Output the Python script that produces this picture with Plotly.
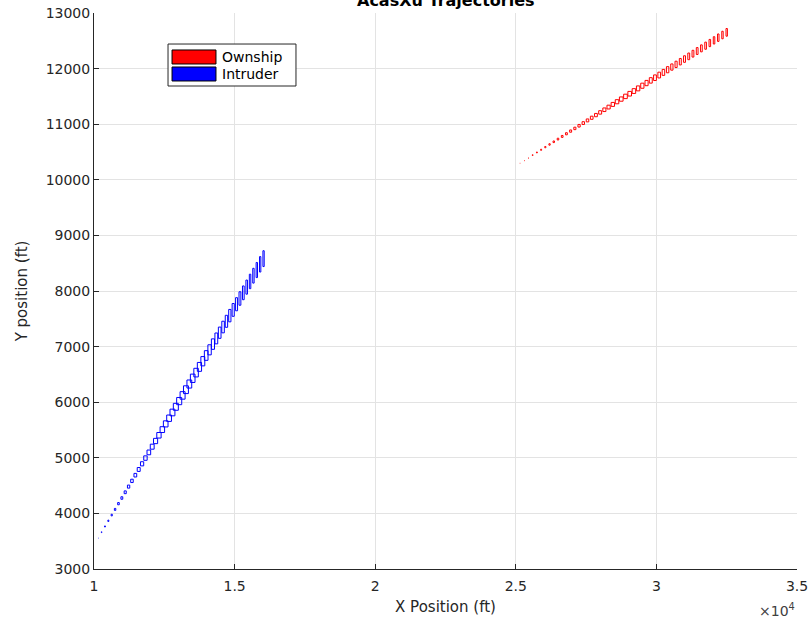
import plotly.graph_objects as go

# ---- data (ft) ----
own_x = [25150, 25300, 25450, 25600, 25750, 25900, 26050, 26200, 26350, 26500,
         26650, 26800, 26950, 27100, 27250, 27400, 27550, 27700, 27850, 28000,
         28150, 28300, 28450, 28600, 28750, 28900, 29050, 29200, 29350, 29500,
         29650, 29800, 29950, 30100, 30250, 30400, 30550, 30700, 30850, 31000,
         31150, 31300, 31450, 31600, 31750, 31900, 32050, 32200, 32350, 32500]
own_y = [10300, 10348, 10396, 10444, 10492, 10540, 10588, 10636, 10684, 10732,
         10780, 10828, 10876, 10924, 10972, 11020, 11068, 11116, 11164, 11212,
         11260, 11308, 11356, 11404, 11452, 11500, 11548, 11596, 11644, 11692,
         11740, 11788, 11836, 11884, 11932, 11980, 12028, 12076, 12124, 12172,
         12220, 12268, 12316, 12364, 12412, 12460, 12508, 12556, 12604, 12652]
own_w = [10, 15, 20, 25, 30, 35, 40, 45, 50, 55,
         60, 65, 70, 75, 80, 85, 90, 95, 100, 105,
         110, 115, 120, 125, 130, 130, 130, 125, 120, 115,
         110, 105, 100, 95, 90, 85, 80, 75, 70, 68,
         66, 64, 62, 60, 58, 56, 54, 52, 50, 50]
own_h = [5, 8, 11, 14, 17, 20, 23, 26, 29, 32,
         35, 38, 41, 44, 47, 50, 53, 56, 59, 62,
         65, 68, 71, 74, 77, 80, 83, 86, 89, 92,
         95, 98, 101, 104, 107, 110, 112, 114, 116, 118,
         120, 122, 124, 126, 128, 130, 132, 134, 136, 138]

int_x = [10150, 10270, 10390, 10510, 10630, 10750, 10870, 10990, 11110, 11230,
         11350, 11470, 11590, 11710, 11830, 11950, 12070, 12190, 12310, 12430,
         12550, 12670, 12790, 12910, 13030, 13150, 13270, 13390, 13510, 13630,
         13750, 13870, 13990, 14110, 14230, 14350, 14470, 14590, 14710, 14830,
         14950, 15070, 15190, 15310, 15430, 15550, 15670, 15790, 15910, 16030]
int_y = [3560, 3662, 3765, 3867, 3970, 4072, 4175, 4277, 4380, 4482,
         4585, 4687, 4790, 4892, 4995, 5097, 5200, 5302, 5405, 5507,
         5610, 5712, 5815, 5917, 6020, 6122, 6225, 6327, 6430, 6532,
         6635, 6737, 6840, 6942, 7045, 7147, 7250, 7352, 7455, 7557,
         7660, 7762, 7865, 7967, 8070, 8172, 8275, 8377, 8480, 8582]
int_w = [10, 18, 26, 34, 42, 50, 58, 66, 74, 82,
         90, 98, 106, 114, 122, 130, 138, 146, 154, 160,
         165, 170, 175, 178, 180, 178, 175, 170, 165, 160,
         150, 140, 130, 120, 110, 100, 95, 90, 85, 80,
         75, 70, 65, 60, 55, 52, 50, 48, 46, 45]
int_h = [10, 15, 20, 25, 30, 35, 40, 45, 50, 55,
         60, 65, 70, 75, 80, 85, 90, 95, 100, 105,
         110, 115, 120, 125, 130, 135, 140, 145, 150, 155,
         160, 167, 174, 181, 188, 195, 202, 209, 216, 223,
         230, 236, 242, 248, 254, 260, 266, 272, 278, 285]

x_ticks = [10000, 15000, 20000, 25000, 30000, 35000]
x_tick_text = ["1", "1.5", "2", "2.5", "3", "3.5"]
y_ticks = [3000, 4000, 5000, 6000, 7000, 8000, 9000, 10000, 11000, 12000, 13000]
y_tick_text = [str(v) for v in y_ticks]

legend_names = ["Ownship", "Intruder"]
legend_colors = ["#ff0000", "#0000ff"]


def boxes(cx, cy, w, h):
    xs, ys = [], []
    for x0, y0, ww, hh in zip(cx, cy, w, h):
        l, r, b, t = x0 - ww / 2, x0 + ww / 2, y0 - hh / 2, y0 + hh / 2
        xs += [l, r, r, l, l, None]
        ys += [b, b, t, t, b, None]
    return xs, ys


fig = go.Figure()
ox, oy = boxes(own_x, own_y, own_w, own_h)
ix, iy = boxes(int_x, int_y, int_w, int_h)
fig.add_trace(go.Scatter(x=ox, y=oy, mode="lines", line=dict(color="#ff0000", width=1),
                         showlegend=False, hoverinfo="skip", name="Ownship"))
fig.add_trace(go.Scatter(x=ix, y=iy, mode="lines", line=dict(color="#0000ff", width=1),
                         showlegend=False, hoverinfo="skip", name="Intruder"))

axis_font = dict(family="DejaVu Sans", size=14, color="#262626")
axis_common = dict(showgrid=True, gridcolor="#e3e3e3", gridwidth=1, zeroline=False,
                   showline=True, linecolor="#262626", linewidth=1, mirror=False,
                   ticks="inside", ticklen=5, tickcolor="#262626", automargin=False,
                   tickfont=axis_font)

fig.update_xaxes(range=[10000, 35000], tickvals=x_ticks, ticktext=x_tick_text,
                 ticklabelstandoff=4,
                 title=dict(text="X Position (ft)", font=dict(family="DejaVu Sans", size=15, color="#262626"),
                            standoff=8),
                 **axis_common)
fig.update_yaxes(range=[3000, 13000], tickvals=y_ticks, ticktext=y_tick_text,
                 title=dict(text="Y position (ft)", font=dict(family="DejaVu Sans", size=15, color="#262626"),
                            standoff=14),
                 **axis_common)

fig.add_annotation(x=0.972, y=-0.073, xref="paper", yref="paper", text="×10<sup>4</sup>",
                   showarrow=False, xanchor="center", yanchor="middle",
                   font=dict(family="DejaVu Sans", size=14, color="#404040"))

# title (partially above the page, as in the reference)
fig.add_annotation(x=0.5, y=1.0216, xref="paper", yref="paper", text="<b>AcasXu Trajectories</b>",
                   showarrow=False, xanchor="center", yanchor="middle",
                   font=dict(family="DejaVu Sans", size=16, color="#000000"))

# manual legend (box + filled patches + labels), in paper coordinates
fig.add_shape(type="rect", xref="paper", yref="paper", x0=0.1053, x1=0.2873, y0=0.8687, y1=0.9442,
              fillcolor="white", line=dict(color="#262626", width=1), layer="above")
patch_y = [(0.9083, 0.9335), (0.8777, 0.9029)]
for name, col, (y0, y1) in zip(legend_names, legend_colors, patch_y):
    fig.add_shape(type="rect", xref="paper", yref="paper", x0=0.1110, x1=0.1735, y0=y0, y1=y1,
                  fillcolor=col, line=dict(color="#000000", width=1), layer="above")
    fig.add_annotation(x=0.1790, y=(y0 + y1) / 2, xref="paper", yref="paper", text=name,
                       showarrow=False, xanchor="left", yanchor="middle",
                       font=dict(family="DejaVu Sans", size=14, color="#000000"))

fig.update_layout(
    width=812, height=619,
    margin=dict(l=94, r=15, t=13, b=50),
    plot_bgcolor="white", paper_bgcolor="white",
    showlegend=False,
)

fig.write_html("out.html")
